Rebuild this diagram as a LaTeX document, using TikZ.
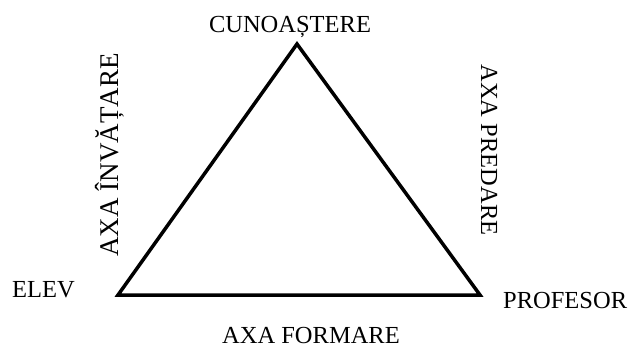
\documentclass[tikz,border=0pt]{standalone}
\usepackage{fontspec}
\setmainfont{Liberation Serif}
\begin{document}
\begin{tikzpicture}[x=1pt,y=-1pt,
  lbl/.style={inner sep=0pt,font=\fontsize{24.5}{26}\selectfont},
  edge/.style={line width=3.5pt,line join=miter}]
\useasboundingbox (0,0) rectangle (636,347);
\coordinate (T) at (297,44);
\coordinate (L) at (118,295);
\coordinate (R) at (480,295);
\draw[edge] (T) -- (L) -- (R) -- cycle;
\node[lbl,anchor=base] (cun) at (290,33) {CUNOAȘTERE};
\node[lbl,anchor=base west] (elev) at (12,297) {ELEV};
\node[lbl,anchor=base west] (prof) at (503,308) {PROFESOR};
\node[lbl,anchor=base] (form) at (311,343) {AXA FORMARE};
\node[lbl,anchor=base,rotate=90,font=\fontsize{27}{29}\selectfont] (inv) at (118,155) {AXA ÎNVĂȚARE};
\node[lbl,anchor=base,rotate=-90] (pred) at (481,150) {AXA PREDARE};
\end{tikzpicture}
\end{document}
